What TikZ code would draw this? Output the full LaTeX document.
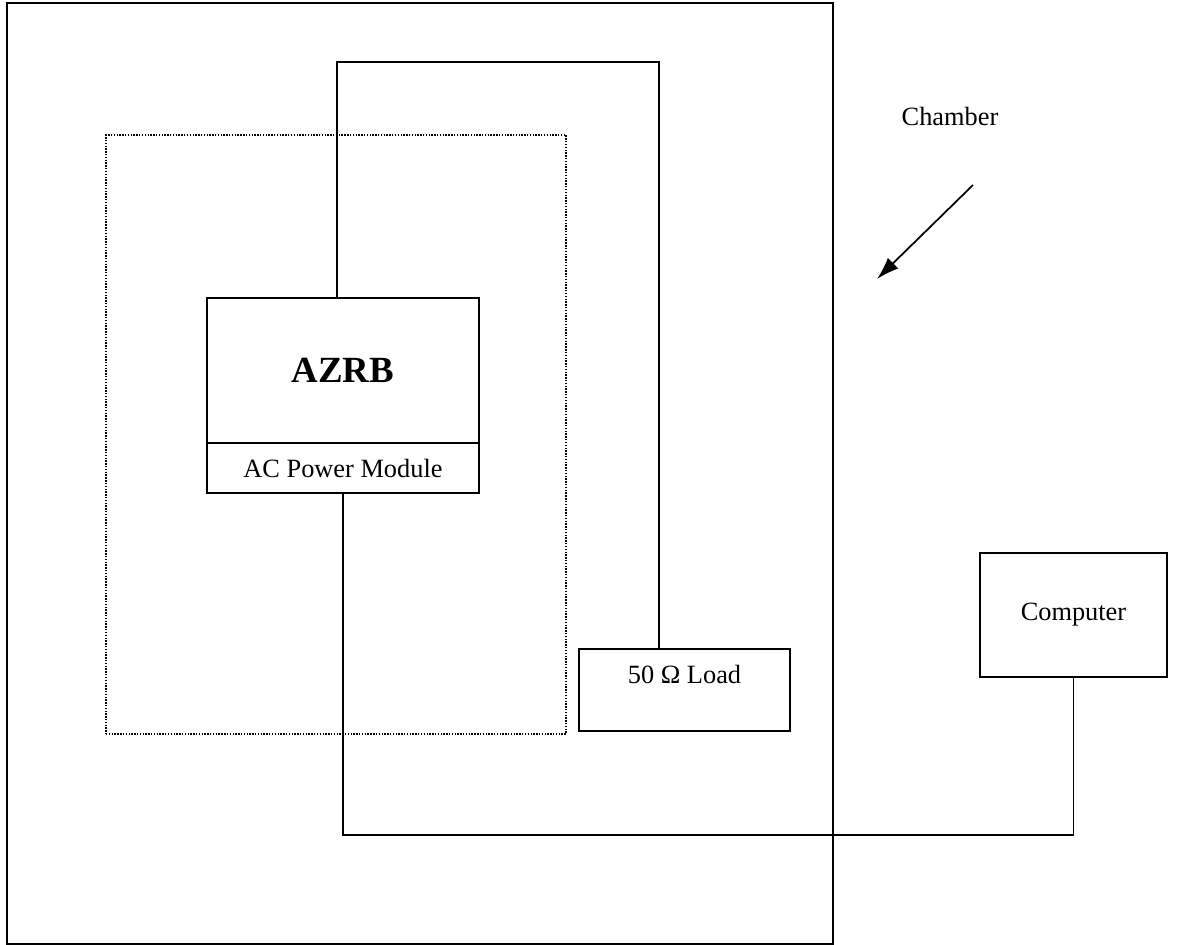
\documentclass[tikz,border=0pt]{standalone}
\usepackage{fontspec}
\setmainfont{Liberation Serif}
\usepackage{tikz}
\usetikzlibrary{arrows.meta,positioning}

\begin{document}
\begin{tikzpicture}[
  x=0.02cm, y=-0.02cm,
  >=Latex,
  every node/.style={font=\fontsize{15}{18}\selectfont},
  unit/.style={rectangle, draw, line width=1pt, inner sep=0pt, align=center},
  frame/.style={rectangle, draw, line width=1.1pt, inner sep=0pt},
  rackframe/.style={rectangle, draw, line width=0.8pt, dash pattern=on 0.8pt off 0.8pt, inner sep=0pt},
  wire/.style={line width=1pt},
]
\useasboundingbox (0,0) rectangle (1184,945);

% Enclosures
\node[frame, minimum width=16.52cm, minimum height=18.82cm] at (420,473.5) (chamber) {};
\node[rackframe, minimum width=9.2cm, minimum height=11.98cm] at (336,434.5) (rack) {};

% Units
\node[unit, minimum width=5.44cm, minimum height=2.9cm,
      font=\fontsize{21}{25}\selectfont\bfseries] at (343,370.5) (azrb) {AZRB};
\node[unit, minimum width=5.44cm, minimum height=1.0cm] at (343,468) (acpm) {AC Power Module};
\node[unit, minimum width=4.22cm, minimum height=1.64cm] at (684.5,690) (load) {50 Ω Load\\ };
\node[unit, minimum width=3.74cm, minimum height=2.48cm] at (1073.5,615) (computer) {Computer};

% Label
\node at (950,116) (chlabel) {Chamber};
\coordinate (chtail) at (973,185);
\coordinate (chtip) at (877,279);
\draw[->, line width=1pt, >={Latex[length=4.5mm,width=3mm]}] (chtail) -- (chtip);

% Cables
\coordinate (rfturn) at (659,62);
\coordinate (busturn) at (1073.5,835);
\draw[wire] ([xshift=-0.12cm]azrb.north) |- (rfturn) -- (rfturn |- load.north);
\draw[wire] (acpm.south) |- (busturn) -- (computer.south);

\end{tikzpicture}
\end{document}
